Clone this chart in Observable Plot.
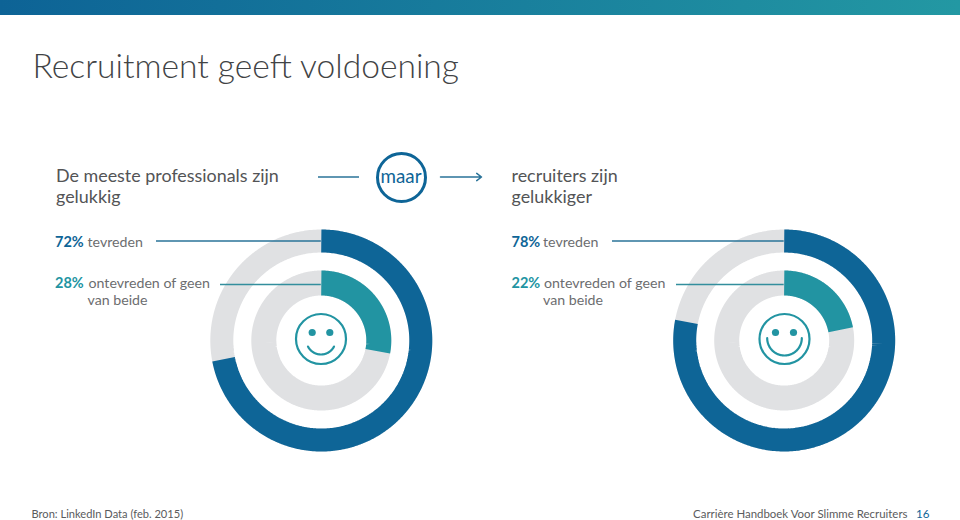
<!DOCTYPE html>
<html lang="nl">
<head>
<meta charset="utf-8">
<script src="https://cdn.jsdelivr.net/npm/d3@7"></script>
<script src="https://cdn.jsdelivr.net/npm/@observablehq/plot@0.6"></script>
<style>
  html, body { margin: 0; padding: 0; background: #fff; }
  #bar { position: absolute; left: 0; top: 0; width: 960px; height: 15px;
         background: linear-gradient(90deg, #0d6396, #2398a3); }
  #chart { position: absolute; left: 0; top: 0; width: 960px; height: 520px; }
  #chart svg { display: block; }
</style>
</head>
<body>
<div id="chart"></div>
<div id="bar"></div>
<script>
// ---- data ----
const groups = ["professionals", "recruiters"];
const satisfied = [72, 78];
const unsatisfied = [28, 22];
const satisfiedLabel = "tevreden";
const unsatisfiedLines = ["ontevreden of geen", "van beide"];
const headings = [["De meeste professionals zijn", "gelukkig"], ["recruiters zijn", "gelukkiger"]];
const connector = "maar";
const title = "Recruitment geeft voldoening";
const source = "Bron: LinkedIn Data (feb. 2015)";
const footer = "Carrière Handboek Voor Slimme Recruiters";
const pageNumber = "16";

// ---- palette and page layout ----
const BLUE = "#0e6597", TEAL = "#2294a2", GREY = "#e0e1e3", INK = "#535456", DARK = "#414345";
const FONT = "Lato, sans-serif";
const centers = [{x: 320.8, y: 340}, {x: 783.7, y: 340}];
const faces = [{x: 320.5, y: 338.5, eye: 8.8, mouthR: 14.6, mouthY: 339.4, mouthFrom: 32.5, mouthTo: 67.5},
               {x: 784, y: 338.5, eye: 9, mouthR: 17.3, mouthY: 337.7, mouthFrom: 25, mouthTo: 75}];
const outerR = 99.5, innerR = 57.5;
const leaderStart = [{outer: 156, inner: 220}, {outer: 612, inner: 676}];
const columns = [{head: 55.5, pct: 54.5, word: 87}, {head: 511, pct: 511, word: 542.5}];

// an arc from one share of the circle to another, as points for Plot.line
function arc(c, r, from, to, kind, id) {
  const n = Math.max(2, Math.ceil((to - from) * 3.6));
  return d3.range(n + 1).map(i => {
    const a = (from + (to - from) * i / n) / 100 * 2 * Math.PI;
    return {x: c.x + r * Math.sin(a), y: c.y - r * Math.cos(a), kind, id};
  });
}
const outerRings = groups.flatMap((g, i) => [
  ...arc(centers[i], outerR, 0, 100, "rest", g + "-o-rest"),
  ...arc(centers[i], outerR, 0, satisfied[i], "tevreden", g + "-o")
]);
const innerRings = groups.flatMap((g, i) => [
  ...arc(centers[i], innerR, 0, 100, "rest", g + "-i-rest"),
  ...arc(centers[i], innerR, 0, unsatisfied[i], "ontevreden", g + "-i")
]);
const colorScale = {domain: ["tevreden", "ontevreden", "rest"], range: [BLUE, TEAL, GREY]};

const mouths = faces.flatMap((f, i) => arc({x: f.x, y: f.mouthY}, f.mouthR, f.mouthFrom, f.mouthTo, "mouth", i));
const eyes = faces.flatMap(f => [{x: f.x - f.eye, y: f.y - 6.5}, {x: f.x + f.eye, y: f.y - 6.5}]);

const leaders = groups.flatMap((g, i) => [
  {x1: leaderStart[i].outer, x2: centers[i].x, y: 240.5, c: "#2a7399"},
  {x1: leaderStart[i].inner, x2: centers[i].x, y: 284, c: "#338e9d"}
]);

const bodyText = groups.flatMap((g, i) => [
  {t: headings[i][0], x: columns[i].head, y: 176},
  {t: headings[i][1], x: columns[i].head, y: 197},
  {t: satisfiedLabel, x: columns[i].word, y: 242, small: 1},
  {t: unsatisfiedLines[0], x: columns[i].word + 1, y: 283, small: 1},
  {t: unsatisfiedLines[1], x: columns[i].word, y: 299.5, small: 1}
]);
const pctText = groups.flatMap((g, i) => [
  {t: satisfied[i] + "%", x: columns[i].pct, y: 242, c: BLUE},
  {t: unsatisfied[i] + "%", x: columns[i].pct, y: 283, c: TEAL}
]);

const plot = Plot.plot({
  width: 960, height: 520, margin: 0,
  style: {background: "transparent"},
  x: {domain: [0, 960], range: [0, 960], axis: null},
  y: {domain: [0, 520], range: [0, 520], axis: null},
  color: colorScale,
  marks: [
    // donuts
    Plot.line(outerRings, {x: "x", y: "y", z: "id", stroke: "kind", strokeWidth: 23, strokeLinecap: "butt", strokeLinejoin: "bevel"}),
    Plot.line(innerRings, {x: "x", y: "y", z: "id", stroke: "kind", strokeWidth: 25, strokeLinecap: "butt", strokeLinejoin: "bevel"}),
    // leaders
    Plot.ruleY(leaders, {x1: "x1", x2: "x2", y: "y", stroke: d => d.c, strokeWidth: 1.6}),
    // smileys
    Plot.dot(faces, {x: "x", y: "y", r: 25, stroke: TEAL, strokeWidth: 2.2, fill: "none"}),
    Plot.dot(eyes, {x: "x", y: "y", r: 3.6, fill: TEAL, stroke: "none"}),
    Plot.line(mouths, {x: "x", y: "y", z: "id", stroke: TEAL, strokeWidth: 2.2}),
    // connector
    Plot.ruleY([176.5], {x1: 318, x2: 359, stroke: "#2a7399", strokeWidth: 1.5}),
    Plot.dot([{x: 401, y: 177}], {x: "x", y: "y", r: 24, stroke: BLUE, strokeWidth: 3, fill: "none"}),
    Plot.arrow([{x1: 440, x2: 481, y: 176.5}], {x1: "x1", x2: "x2", y1: "y", y2: "y", stroke: "#2a7399", strokeWidth: 1.5, headLength: 6, headAngle: 75, bend: 0}),
    Plot.text([connector], {x: 400.5, y: 176, text: d => d, fill: BLUE, fontSize: 18.8, fontFamily: FONT}),
    // text
    Plot.text([title], {x: 32, y: 67, text: d => d, textAnchor: "start", fill: DARK, fontSize: 33.6, fontWeight: 300, fontFamily: FONT}),
    Plot.text(bodyText.filter(d => !d.small), {x: "x", y: "y", text: "t", textAnchor: "start", fill: INK, fontSize: 17.9, fontFamily: FONT}),
    Plot.text(bodyText.filter(d => d.small), {x: "x", y: "y", text: "t", textAnchor: "start", fill: "#6c6d6f", fontSize: 14.2, fontFamily: FONT}),
    Plot.text(pctText, {x: "x", y: "y", text: "t", textAnchor: "start", fill: d => d.c, fontSize: 14.5, fontWeight: 700, fontFamily: FONT}),
    Plot.text([source], {x: 31, y: 514, text: d => d, textAnchor: "start", fill: "#5a5b5d", fontSize: 11.1, fontFamily: FONT}),
    Plot.text([footer], {x: 907, y: 514, text: d => d, textAnchor: "end", fill: "#5a5b5d", fontSize: 11.45, fontFamily: FONT}),
    Plot.text([pageNumber], {x: 929, y: 514, text: d => d, textAnchor: "end", fill: BLUE, fontSize: 11.6, fontFamily: FONT})
  ]
});
document.getElementById("chart").appendChild(plot);
</script>
</body>
</html>
